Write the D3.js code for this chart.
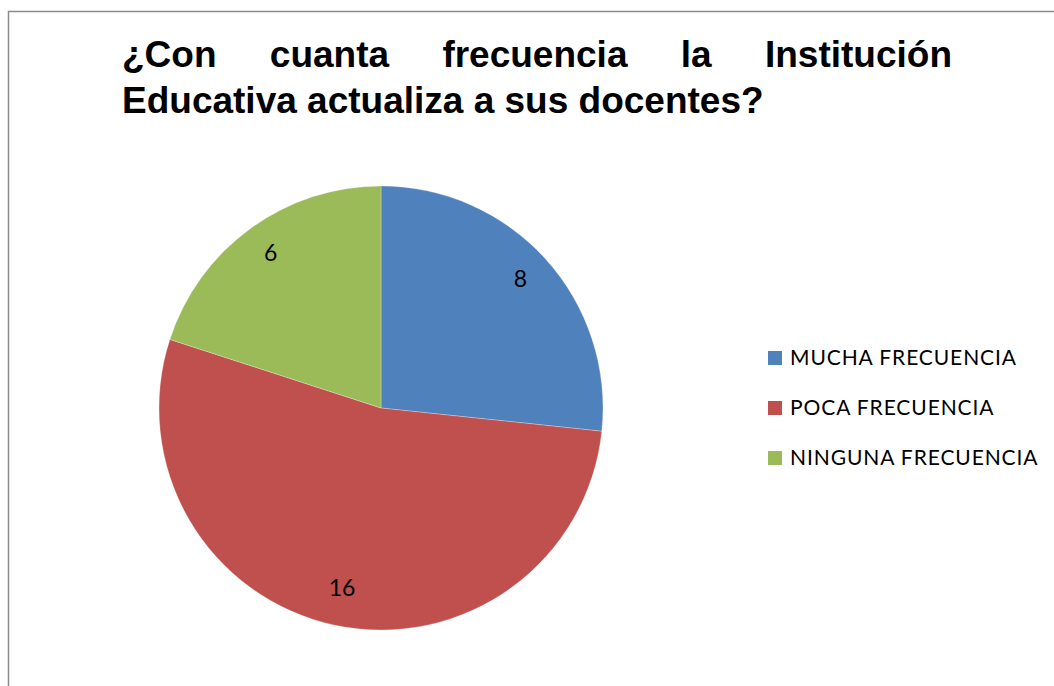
<!DOCTYPE html>
<html>
<head>
<meta charset="utf-8">
<script src="https://cdn.jsdelivr.net/npm/d3@7"></script>
<style>
  html, body { margin: 0; padding: 0; background: #fff; }
  svg { display: block; }
</style>
</head>
<body>
<div id="chart"></div>
<script>
// chart data
var categories = ["MUCHA FRECUENCIA", "POCA FRECUENCIA", "NINGUNA FRECUENCIA"];
var values = [8, 16, 6];
var colors = ["#4F81BD", "#C0504D", "#9BBB59"];
var titleLines = ["¿Con cuanta frecuencia la Institución", "Educativa actualiza a sus docentes?"];

var width = 1054, height = 686;

var svg = d3.select("#chart").append("svg")
    .attr("width", width)
    .attr("height", height);

// outer frame (only top and left edges visible)
svg.append("path")
    .attr("d", "M8.5," + (height + 5) + " L8.5,11.5 L" + (width + 5) + ",11.5")
    .attr("fill", "none")
    .attr("stroke", "#8c8c8c")
    .attr("stroke-width", 1.5);

// title, first line justified
var titleLeft = 122, titleRight = 952, titleSize = 37;
var title = svg.append("g")
    .attr("font-family", "'Liberation Sans', Arial, sans-serif")
    .attr("font-weight", "bold")
    .attr("font-size", titleSize)
    .attr("fill", "#000");

var words = titleLines[0].split(" ");
var wordNodes = words.map(function(w) {
    return title.append("text").attr("y", 67).text(w);
});
var widths = wordNodes.map(function(t) { return t.node().getComputedTextLength(); });
var gap = (titleRight - titleLeft - d3.sum(widths)) / (words.length - 1);
var x = titleLeft;
wordNodes.forEach(function(t, i) {
    t.attr("x", x);
    x += widths[i] + gap;
});

title.append("text")
    .attr("x", titleLeft)
    .attr("y", 113)
    .text(titleLines[1]);

// pie
var cx = 381, cy = 408, radius = 222;
var g = svg.append("g").attr("transform", "translate(" + cx + "," + cy + ")");

var pie = d3.pie().sort(null).value(function(d) { return d; });
var arc = d3.arc().innerRadius(0).outerRadius(radius);
var labelArc = d3.arc().innerRadius(radius * 0.845).outerRadius(radius * 0.845);

var arcs = pie(values);

g.selectAll(".slice")
    .data(arcs)
    .enter().append("path")
    .attr("class", "slice")
    .attr("d", arc)
    .attr("fill", function(d, i) { return colors[i]; })
    .attr("stroke", "rgba(255,255,255,0.35)")
    .attr("stroke-width", 0.8);

g.selectAll(".label")
    .data(arcs)
    .enter().append("text")
    .attr("class", "label")
    .attr("transform", function(d) { return "translate(" + labelArc.centroid(d) + ")"; })
    .attr("text-anchor", "middle")
    .attr("dy", "0.2em")
    .attr("font-family", "Lato, 'Open Sans', sans-serif")
    .attr("font-size", 23)
    .attr("fill", "#000")
    .text(function(d) { return d.data; });

// legend
var legendY = d3.scalePoint().domain(categories).range([358, 458]);

var legend = svg.selectAll(".legend")
    .data(categories)
    .enter().append("g")
    .attr("class", "legend")
    .attr("transform", function(d) { return "translate(768," + legendY(d) + ")"; });

legend.append("rect")
    .attr("x", 0)
    .attr("y", -7)
    .attr("width", 14)
    .attr("height", 14)
    .attr("fill", function(d, i) { return colors[i]; });

legend.append("text")
    .attr("x", 22)
    .attr("dy", "0.35em")
    .attr("font-family", "Lato, 'Open Sans', sans-serif")
    .attr("font-size", 21)
    .attr("letter-spacing", 0.9)
    .attr("fill", "#000")
    .text(function(d) { return d; });
</script>
</body>
</html>
